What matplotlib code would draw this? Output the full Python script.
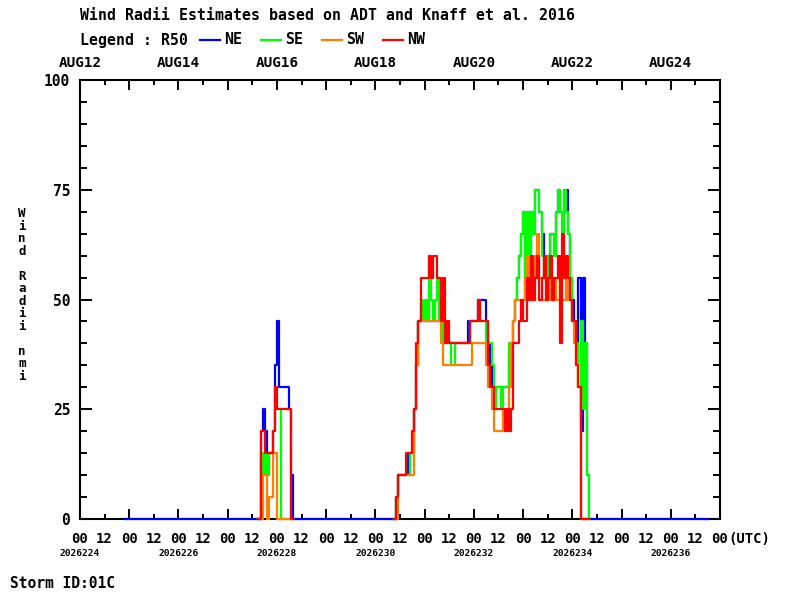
import matplotlib
matplotlib.use("Agg")
import matplotlib.pyplot as plt
from matplotlib.lines import Line2D
from matplotlib.ticker import MultipleLocator
import matplotlib.transforms as mtransforms

plt.rcParams['font.family'] = 'DejaVu Sans Mono'
plt.rcParams['font.weight'] = 'bold'

# data: hours since AUG12 00UTC, R50 radii (nmi) per quadrant
start_hour = 22
end_hour = 306

ev1_hours = list(range(87, 105))
ne1 = [0, 20, 25, 20, 15, 15, 15, 20, 35, 45, 30, 30, 30, 30, 30, 25, 10, 0]
se1 = [0, 15, 10, 15, 10, 15, 15, 20, 25, 25, 25, 0, 0, 0, 0, 0, 0, 0]
sw1 = [0, 0, 10, 10, 0, 5, 5, 15, 15, 0, 0, 0, 0, 0, 0, 0, 0, 0]
nw1 = [0, 20, 20, 15, 15, 15, 15, 20, 30, 25, 25, 25, 25, 25, 25, 25, 0, 0]

ev2_hours = list(range(153, 249))
ne2 = [0,
       5, 10, 10, 10, 10, 10, 15, 15, 15, 25, 35, 45,
       45, 45, 45, 45, 45, 45, 45, 45, 45, 45, 50, 40,
       40, 40, 40, 40, 40, 40, 40, 40, 40, 40, 40, 45,
       45, 45, 45, 45, 50, 50, 50, 50, 45, 40, 35, 30,
       30, 30, 30, 30, 30, 30, 30, 35, 40, 45, 50, 55,
       60, 65, 70, 55, 70, 60, 70, 65, 75, 75, 70, 65,
       55, 55, 60, 65, 65, 65, 70, 75, 70, 70, 75, 75,
       65, 55, 50, 45, 40, 55, 20, 55, 40, 10, 0]
se2 = [0,
       5, 10, 10, 10, 10, 10, 10, 15, 15, 25, 35, 45,
       50, 45, 50, 45, 55, 50, 45, 50, 55, 45, 45, 40,
       40, 40, 40, 35, 35, 40, 40, 40, 40, 40, 40, 40,
       45, 45, 45, 45, 45, 45, 45, 45, 40, 40, 40, 35,
       25, 30, 30, 25, 30, 30, 30, 40, 40, 45, 50, 55,
       60, 65, 70, 50, 70, 55, 70, 65, 75, 75, 70, 60,
       55, 55, 60, 65, 65, 60, 70, 75, 70, 65, 75, 70,
       65, 55, 45, 45, 40, 30, 45, 25, 40, 10, 0]
sw2 = [0,
       0, 10, 10, 10, 10, 10, 10, 10, 10, 25, 35, 45,
       45, 45, 45, 45, 45, 45, 45, 45, 45, 45, 40, 35,
       35, 35, 35, 35, 35, 35, 35, 35, 35, 35, 35, 35,
       35, 40, 40, 40, 40, 40, 40, 40, 35, 30, 30, 25,
       20, 20, 20, 20, 25, 20, 20, 30, 40, 45, 50, 50,
       50, 50, 50, 55, 60, 55, 50, 55, 60, 65, 55, 50,
       50, 55, 50, 55, 50, 55, 50, 50, 55, 50, 50, 55,
       50, 50, 45, 40, 35, 30, 0, 0, 0, 0, 0]
nw2 = [0,
       5, 10, 10, 10, 10, 15, 15, 15, 20, 25, 40, 45,
       55, 55, 55, 55, 60, 55, 60, 60, 55, 55, 45, 55,
       40, 45, 40, 40, 40, 40, 40, 40, 40, 40, 40, 40,
       45, 45, 45, 45, 50, 45, 45, 45, 45, 35, 30, 30,
       25, 25, 25, 25, 25, 20, 25, 20, 25, 40, 40, 40,
       45, 50, 45, 45, 55, 50, 60, 50, 55, 60, 50, 55,
       60, 50, 55, 60, 50, 55, 55, 60, 40, 65, 55, 60,
       55, 50, 45, 45, 35, 30, 0, 0, 0, 0, 0]

top_labels = ['AUG12', 'AUG14', 'AUG16', 'AUG18', 'AUG20', 'AUG22', 'AUG24']
date_labels = ['2026224', '2026226', '2026228', '2026230', '2026232', '2026234', '2026236']
quadrants = ['NE', 'SE', 'SW', 'NW']
colors = ['#0000ff', '#00ff00', '#ff8000', '#ff0000']

W, H = 800, 600
fig = plt.figure(figsize=(8, 6), dpi=100)
ax = fig.add_axes([80 / W, 1 - 519 / H, 640 / W, 439 / H])
ax.set_xlim(0, 312)
ax.set_ylim(0, 100)

# NE carries the zero line over the whole record
ne_hours = [start_hour] + ev1_hours + ev2_hours + [end_hour]
ne_vals = [0] + ne1 + ne2 + [0]
ax.plot(ne_hours, ne_vals, drawstyle='steps-post', color=colors[0], lw=1.6,
        zorder=3, clip_on=False)
for vals1, vals2, c, z in [(se1, se2, colors[1], 4), (sw1, sw2, colors[2], 5),
                           (nw1, nw2, colors[3], 6)]:
    ax.plot(ev1_hours, vals1, drawstyle='steps-post', color=c, lw=1.6, zorder=z, clip_on=False)
    ax.plot(ev2_hours, vals2, drawstyle='steps-post', color=c, lw=1.6, zorder=z, clip_on=False)

# axes / ticks
for s in ax.spines.values():
    s.set_linewidth(1.5)
ax.xaxis.set_major_locator(MultipleLocator(24))
ax.xaxis.set_minor_locator(MultipleLocator(12))
ax.yaxis.set_major_locator(MultipleLocator(25))
ax.yaxis.set_minor_locator(MultipleLocator(5))
ax.tick_params(axis='both', which='both', direction='in', top=True, right=True, width=1.4)
ax.tick_params(axis='x', which='major', length=7)
ax.tick_params(axis='x', which='minor', length=3.5)
ax.tick_params(axis='y', which='major', length=8.5)
ax.tick_params(axis='y', which='minor', length=5)
ax.tick_params(axis='x', labelbottom=False)
ax.tick_params(axis='y', labelsize=10.5, pad=7)

blend = mtransforms.blended_transform_factory(ax.transData, fig.transFigure)
for h in range(0, 313, 12):
    ax.text(h, 1 - 539 / H, '00' if h % 24 == 0 else '12', transform=blend,
            ha='center', va='center', fontsize=10)
ax.text(312 + 4, 1 - 539 / H, '(UTC)', transform=blend, ha='left', va='center', fontsize=10)
for i, (tl, dl) in enumerate(zip(top_labels, date_labels)):
    ax.text(i * 48, 1 - 63 / H, tl, transform=blend, ha='center', va='center', fontsize=10.3)
    ax.text(i * 48, 1 - 553 / H, dl, transform=blend, ha='center', va='center', fontsize=6.8)

# title, legend, labels
fig.text(80 / W, 1 - 15 / H, 'Wind Radii Estimates based on ADT and Knaff et al. 2016',
         ha='left', va='center', fontsize=10.7)
fig.text(80 / W, 1 - 40 / H, 'Legend : R50', ha='left', va='center', fontsize=10.7)
for i, (q, c) in enumerate(zip(quadrants, colors)):
    x0 = 200 + i * 61
    fig.add_artist(Line2D([x0 / W, (x0 + 20) / W], [1 - 40 / H, 1 - 40 / H], color=c, lw=1.6))
    fig.text((x0 + 24) / W, 1 - 40 / H, q, ha='left', va='center', fontsize=10.7)

fig.text(22 / W, 1 - 295 / H, '\n'.join('Wind Radii nmi'), ha='center', va='center',
         fontsize=9, linespacing=0.95)
fig.text(10 / W, 1 - 583 / H, 'Storm ID:01C', ha='left', va='center', fontsize=10.5)

fig.savefig('out.png', dpi=100)
